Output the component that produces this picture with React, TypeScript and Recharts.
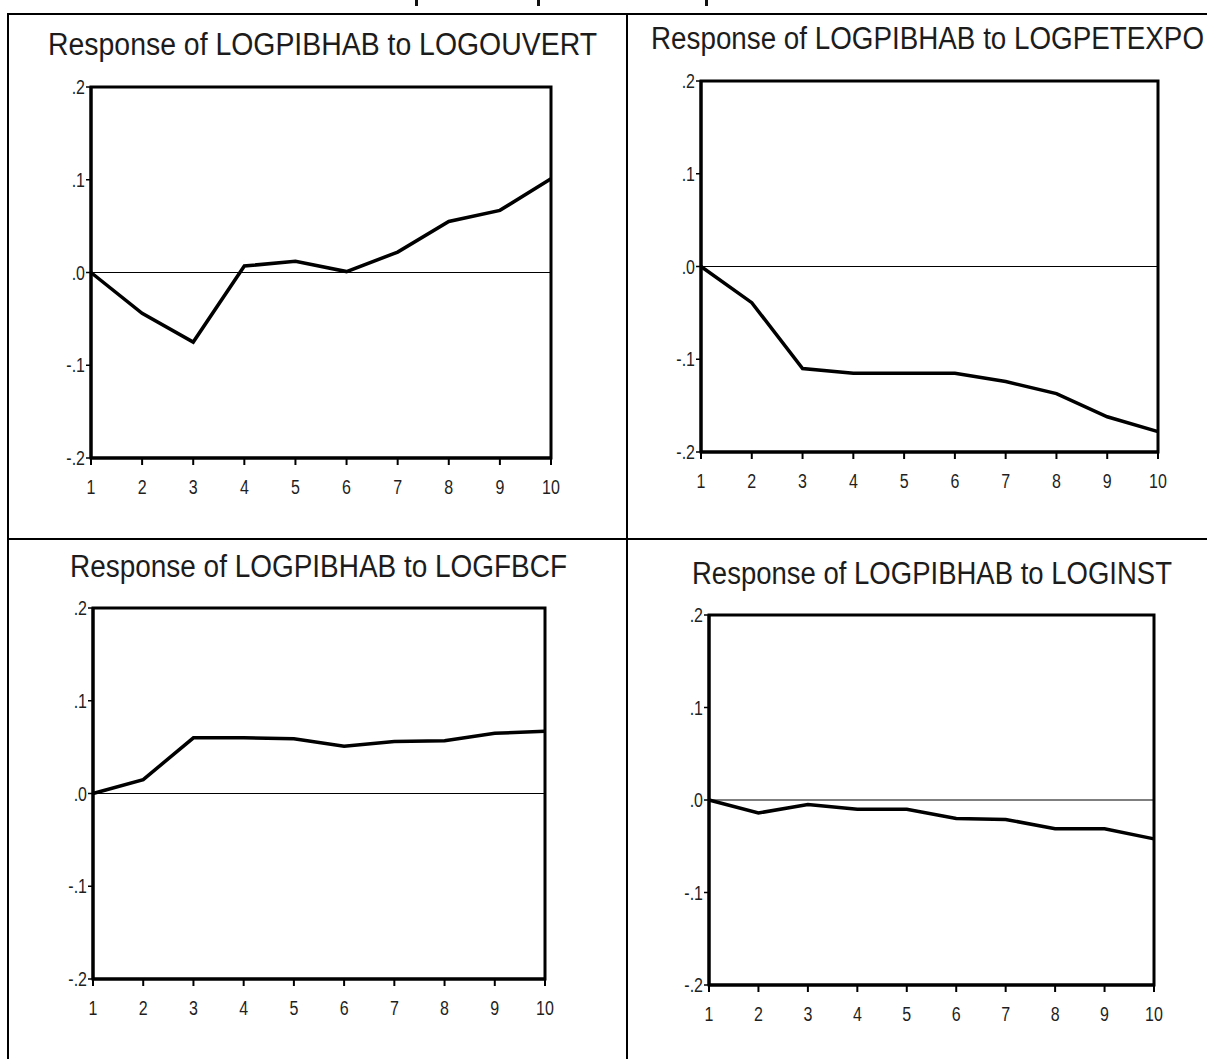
import { LineChart, Line, XAxis, YAxis, ReferenceLine, ReferenceArea } from "recharts";

const steps = [1, 2, 3, 4, 5, 6, 7, 8, 9, 10];
const yTicks = [-0.2, -0.1, 0, 0.1, 0.2];

const ouvert = [0, -0.044, -0.075, 0.007, 0.012, 0.001, 0.022, 0.055, 0.067, 0.101];
const petexpo = [0, -0.039, -0.11, -0.115, -0.115, -0.115, -0.124, -0.137, -0.162, -0.178];
const fbcf = [0, 0.015, 0.06, 0.06, 0.059, 0.051, 0.056, 0.057, 0.065, 0.067];
const inst = [0, -0.014, -0.005, -0.01, -0.01, -0.02, -0.021, -0.031, -0.031, -0.042];

const FONT = "'Liberation Sans', Arial, sans-serif";

type Box = { left: number; top: number; right: number; bottom: number };
type Title = { text: string; x: number; baseline: number; width: number };

const fmtY = (v: number) => {
  if (v === 0) return ".0";
  return (v < 0 ? "-" : "") + "." + Math.round(Math.abs(v) * 10);
};

// narrow, tall tick text like the EViews export
function XTick(props: any) {
  const { x, y, payload } = props;
  return (
    <g transform={`translate(${x},${y + 27})`}>
      <text transform="scale(0.8,1)" textAnchor="middle" fontFamily={FONT} fontSize={20} fill="#1f1f1f">
        {payload.value}
      </text>
    </g>
  );
}

function YTick(props: any) {
  const { x, y, payload } = props;
  return (
    <g transform={`translate(${x + 1},${y + 7})`}>
      <text transform="scale(0.8,1)" textAnchor="end" fontFamily={FONT} fontSize={20} fill="#1f1f1f">
        {fmtY(payload.value)}
      </text>
    </g>
  );
}

function Panel({ values, box, title }: { values: number[]; box: Box; title: Title }) {
  const data = steps.map((s, i) => ({ step: s, value: values[i] }));
  const w = box.right - box.left + 70;
  const h = box.bottom - box.top + 50;
  return (
    <>
      <svg
        width={1207}
        height={60}
        style={{ position: "absolute", left: 0, top: title.baseline - 40, overflow: "hidden" }}
      >
        <text
          transform={`translate(${title.x},40) scale(1,1.1)`}
          fontFamily={FONT}
          fontSize={28}
          fill="#1c1c1c"
          textLength={title.width}
          lengthAdjust="spacingAndGlyphs"
        >
          {title.text}
        </text>
      </svg>
      <div style={{ position: "absolute", left: box.left - 60, top: box.top - 10 }}>
        <LineChart width={w} height={h} data={data} margin={{ top: 10, right: 10, bottom: 0, left: 10 }}>
          <XAxis
            type="number"
            dataKey="step"
            domain={[1, 10]}
            ticks={steps}
            interval={0}
            height={40}
            tickSize={7}
            axisLine={{ stroke: "#000", strokeWidth: 3 }}
            tickLine={{ stroke: "#000", strokeWidth: 2 }}
            tick={<XTick />}
          />
          <YAxis
            type="number"
            domain={[-0.2, 0.2]}
            ticks={yTicks}
            interval={0}
            width={50}
            tickSize={5}
            axisLine={{ stroke: "#000", strokeWidth: 3 }}
            tickLine={{ stroke: "#000", strokeWidth: 1.5 }}
            tick={<YTick />}
          />
          <ReferenceArea x1={1} x2={10} y1={-0.2} y2={0.2} fill="none" stroke="#000" strokeWidth={3} />
          <ReferenceLine y={0} stroke="#000" strokeWidth={1.2} />
          <Line
            type="linear"
            dataKey="value"
            stroke="#000"
            strokeWidth={3.5}
            dot={false}
            isAnimationActive={false}
          />
        </LineChart>
      </div>
    </>
  );
}

// fragments of the cut-off heading above the table
const headingMarks = [415, 537, 705];

export default function App() {
  return (
    <div
      style={{
        position: "absolute",
        left: 0,
        top: 0,
        width: 1207,
        height: 1059,
        overflow: "hidden",
        background: "#fff",
      }}
    >
      {headingMarks.map((x) => (
        <div key={x} style={{ position: "absolute", left: x, top: 0, width: 3, height: 6, background: "#111" }} />
      ))}
      {/* table borders */}
      <div style={{ position: "absolute", left: 7, top: 13, width: 1200, height: 2, background: "#000" }} />
      <div style={{ position: "absolute", left: 7, top: 13, width: 2, height: 1046, background: "#000" }} />
      <div style={{ position: "absolute", left: 626, top: 13, width: 2, height: 1046, background: "#000" }} />
      <div style={{ position: "absolute", left: 7, top: 538, width: 1200, height: 2, background: "#000" }} />

      <Panel
        values={ouvert}
        box={{ left: 91, top: 87, right: 551, bottom: 458 }}
        title={{ text: "Response of LOGPIBHAB to LOGOUVERT", x: 48, baseline: 55, width: 549 }}
      />
      <Panel
        values={petexpo}
        box={{ left: 701, top: 81, right: 1158, bottom: 452 }}
        title={{ text: "Response of LOGPIBHAB to LOGPETEXPO", x: 651, baseline: 49, width: 553 }}
      />
      <Panel
        values={fbcf}
        box={{ left: 93, top: 608, right: 545, bottom: 979 }}
        title={{ text: "Response of LOGPIBHAB to LOGFBCF", x: 70, baseline: 577, width: 497 }}
      />
      <Panel
        values={inst}
        box={{ left: 709, top: 615, right: 1154, bottom: 985 }}
        title={{ text: "Response of LOGPIBHAB to LOGINST", x: 692, baseline: 584, width: 480 }}
      />
    </div>
  );
}
